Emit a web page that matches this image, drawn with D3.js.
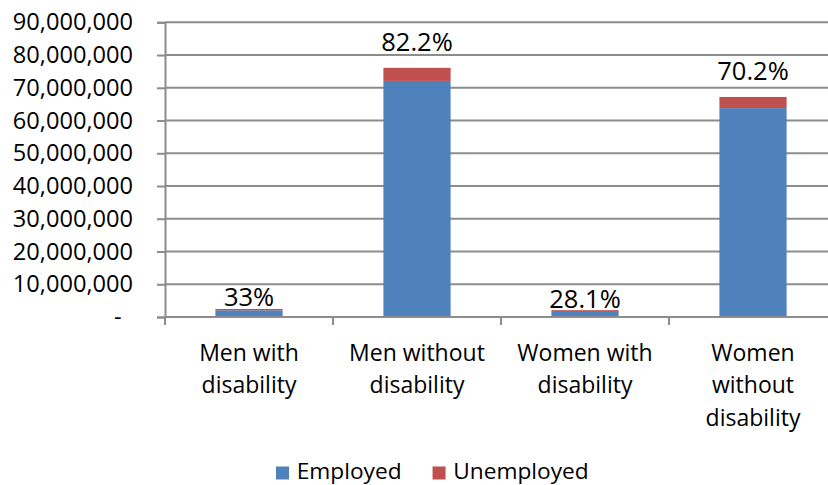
<!DOCTYPE html>
<html>
<head>
<meta charset="utf-8">
<script src="https://cdn.jsdelivr.net/npm/d3@7"></script>
<style>
  html, body { margin: 0; padding: 0; background: #fff; }
  svg { display: block; font-family: "Open Sans", "Noto Sans", sans-serif; }
</style>
</head>
<body>
<svg id="chart" width="828" height="485"></svg>
<script>
// ---- data ----
const categories = ["Men with disability", "Men without disability", "Women with disability", "Women without disability"];
const categoryLines = [["Men with", "disability"], ["Men without", "disability"], ["Women with", "disability"], ["Women", "without", "disability"]];
const employed = [2050000, 72100000, 1850000, 63800000];
const unemployed = [400000, 4000000, 250000, 3400000];
const rateLabels = ["33%", "82.2%", "28.1%", "70.2%"];
const seriesNames = ["Employed", "Unemployed"];
const yTickValues = [0, 10000000, 20000000, 30000000, 40000000, 50000000, 60000000, 70000000, 80000000, 90000000];

// ---- setup ----
const colors = { Employed: "#4F81BD", Unemployed: "#C0504D" };
const gridColor = "#8c8c8c";
const svg = d3.select("#chart");

const plotLeft = 165, plotRight = 837, plotTop = 22.3, plotBottom = 317;

const x = d3.scaleBand().domain(categories).range([plotLeft, plotRight])
  .paddingInner(0.6).paddingOuter(0.3);
const y = d3.scaleLinear().domain([0, 90000000]).range([plotBottom, plotTop]);

const rows = categories.map((c, i) => ({ category: c, Employed: employed[i], Unemployed: unemployed[i] }));
const stacked = d3.stack().keys(seriesNames)(rows);

// gridlines
svg.append("g").selectAll("line").data(yTickValues.slice(1)).join("line")
  .attr("x1", plotLeft).attr("x2", 828)
  .attr("y1", d => y(d)).attr("y2", d => y(d))
  .attr("stroke", gridColor).attr("stroke-width", 2);

// y axis
const fmt = d3.format(",");
const yAxis = svg.append("g").attr("transform", `translate(${plotLeft},0)`)
  .call(d3.axisLeft(y).tickValues(yTickValues).tickSize(8).tickPadding(24)
    .tickFormat(d => d === 0 ? "-" : fmt(d)));
yAxis.select(".domain").attr("stroke", gridColor).attr("stroke-width", 2);
yAxis.selectAll(".tick line").attr("stroke", gridColor).attr("stroke-width", 2);
yAxis.selectAll(".tick text").attr("fill", "#000").style("font-size", "23.6px")
  .style("font-family", "'Open Sans', sans-serif");
yAxis.selectAll(".tick").filter(d => d === 0).select("text").attr("dx", -11.5);

// bars
svg.append("g").selectAll("g").data(stacked).join("g")
  .attr("fill", d => colors[d.key])
  .selectAll("rect").data(d => d).join("rect")
  .attr("x", d => x(d.data.category))
  .attr("width", x.bandwidth())
  .attr("y", d => y(d[1]))
  .attr("height", d => y(d[0]) - y(d[1]));

// x axis line
svg.append("line").attr("x1", plotLeft).attr("x2", 828)
  .attr("y1", plotBottom).attr("y2", plotBottom)
  .attr("stroke", gridColor).attr("stroke-width", 2);

// category tick marks at band boundaries
const step = x.step();
const boundaries = categories.map(c => x(c) - step * x.paddingOuter());
boundaries.push(boundaries[boundaries.length - 1] + step);
svg.append("g").selectAll("line").data(boundaries.filter(b => b <= 828)).join("line")
  .attr("x1", d => d).attr("x2", d => d)
  .attr("y1", plotBottom).attr("y2", plotBottom + 8)
  .attr("stroke", gridColor).attr("stroke-width", 2);

// category labels
const catG = svg.append("g");
categories.forEach((c, i) => {
  const t = catG.append("text")
    .attr("x", x(c) + x.bandwidth() / 2)
    .attr("y", 361)
    .attr("text-anchor", "middle")
    .attr("fill", "#000")
    .style("font-size", "23px");
  categoryLines[i].forEach((line, j) => {
    t.append("tspan").attr("x", x(c) + x.bandwidth() / 2)
      .attr("dy", j === 0 ? 0 : 32.3).text(line);
  });
});

// data labels (above stacked total)
svg.append("g").selectAll("text").data(rows).join("text")
  .attr("x", d => x(d.category) + x.bandwidth() / 2)
  .attr("y", d => {
    const top = y(d.Employed + d.Unemployed);
    return top - ((plotBottom - top) > 40 ? 17 : 2.5);
  })
  .attr("text-anchor", "middle")
  .attr("fill", "#000")
  .style("font-size", "25.5px")
  .text((d, i) => rateLabels[i]);

// legend
const legend = svg.append("g");
let lx = 276;
seriesNames.forEach(name => {
  legend.append("rect").attr("x", lx).attr("y", 466.5).attr("width", 13).attr("height", 13)
    .attr("fill", colors[name]);
  const t = legend.append("text").attr("x", lx + 20.7).attr("y", 479.3)
    .attr("fill", "#000").style("font-size", "22.7px").text(name);
  lx = lx + 20.7 + t.node().getComputedTextLength() + 31;
});
</script>
</body>
</html>
